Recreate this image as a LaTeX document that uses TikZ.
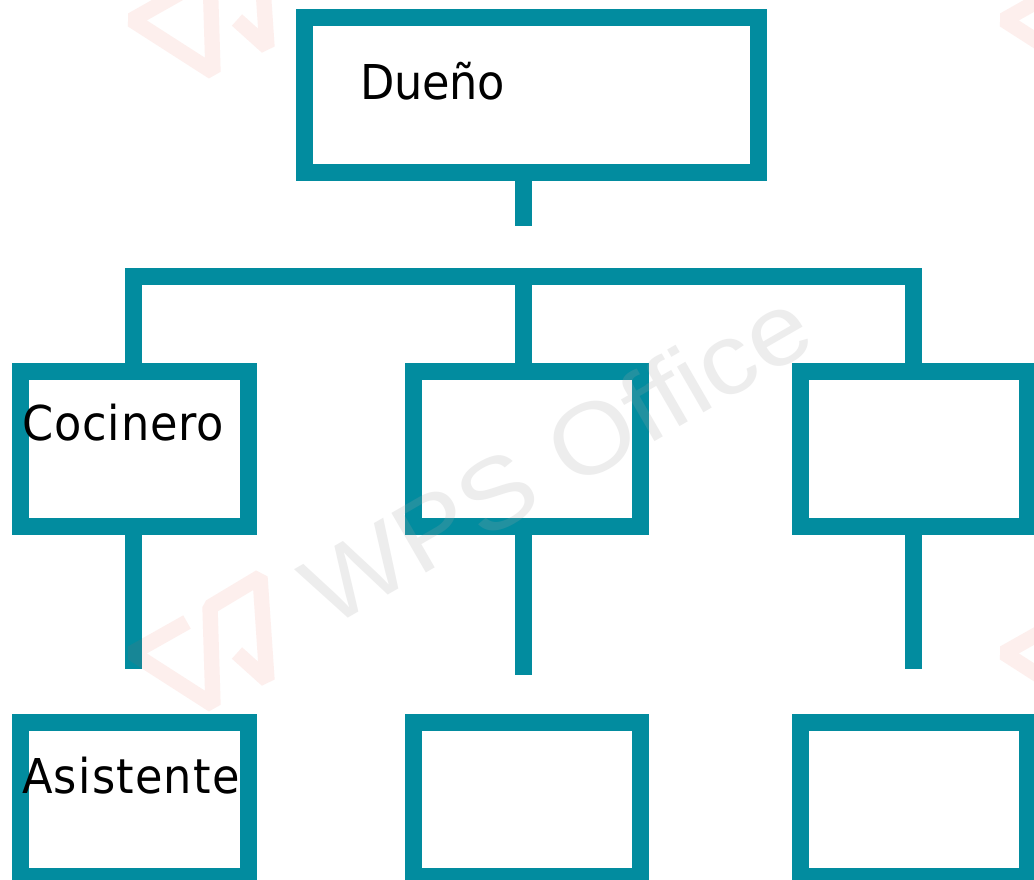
\documentclass[tikz,border=0pt]{standalone}
\usepackage{fontspec}
\setmainfont[FakeStretch=0.93]{DejaVu Sans}
\newfontfamily\lblowner[FakeStretch=0.93,LetterSpace=-0.8]{DejaVu Sans}
\newfontfamily\lblcook[FakeStretch=0.93,LetterSpace=1.8]{DejaVu Sans}
\newfontfamily\lblasst[FakeStretch=0.93,LetterSpace=2.5]{DejaVu Sans}
\newfontfamily\wmfont{Liberation Sans}
\definecolor{teal}{HTML}{028C9F}
\definecolor{wmred}{HTML}{F0543C}
\definecolor{wmgrey}{HTML}{A5A5A5}
\tikzset{
  every picture/.style={x=0.75pt,y=-0.75pt},
  box/.style={draw=teal,line width=12.75pt,fill=white,rectangle,inner sep=0pt,outer sep=0pt,anchor=north west},
  conn/.style={draw=teal,line width=12.75pt,line cap=butt,line join=miter},
  label/.style={font=\fontsize{36pt}{36pt}\selectfont,text=black,inner sep=0pt,anchor=base west},
  wmlogo/.style={draw=wmred,draw opacity=0.09,line width=11.5pt,line join=bevel},
  wmtext/.style={font=\fontsize{75pt}{75pt}\selectfont\wmfont,text=wmgrey,text opacity=0.2,inner sep=0pt,rotate=30,xscale=1.1,anchor=base},
  pics/wlogo/.style={code={
    \draw[wmlogo] (187,622) -- (132,653) -- (213,705) -- (210,607) -- (260,577) -- (267,680) -- (237,653);
  }}
}
\begin{document}
\begin{tikzpicture}
\useasboundingbox (0,0) rectangle (1034,879);
\fill[white] (0,0) rectangle (1034,879);
% boxes
\node[box,minimum width=340.5pt,minimum height=116.25pt] (owner) at (304.5,17.5) {};
\node[box,minimum width=171pt,minimum height=116.25pt] (a1) at (20,371.5) {};
\node[box,minimum width=170.25pt,minimum height=116.25pt] (a2) at (413.5,371.5) {};
\node[box,minimum width=170.25pt,minimum height=116.25pt] (a3) at (800.5,371.5) {};
\node[box,minimum width=171pt,minimum height=115.9pt] (b1) at (20,722) {};
\node[box,minimum width=170.25pt,minimum height=115.9pt] (b2) at (413.5,722) {};
\node[box,minimum width=170.25pt,minimum height=115.9pt] (b3) at (800.5,722) {};
% free ends
\coordinate (stub) at (523.5,226);
\coordinate (barL) at (133.5,276.5);
\coordinate (barM) at (523.5,276.5);
\coordinate (barR) at (913.5,276.5);
\coordinate (d1) at (133.5,669);
\coordinate (d2) at (523.5,675);
\coordinate (d3) at (913.5,669);
% connectors
\draw[conn] (owner.south -| stub) -- (stub);
\draw[conn] (a1.north -| barL) -- (barL) -- (barR) -- (a3.north -| barR);
\draw[conn] (barM) -- (a2.north -| barM);
\draw[conn] (a1.south -| d1) -- (d1);
\draw[conn] (a2.south -| d2) -- (d2);
\draw[conn] (a3.south -| d3) -- (d3);
% labels
\node[label] (t0) at (360,99) {\lblowner Dueño};
\node[label] (t1) at (22,440) {\lblcook Cocinero};
\node[label] (t2) at (22,793) {\lblasst Asistente};
% faint watermark lying over the drawing
\begin{scope}
\clip (0,0) rectangle (1034,879);
\pic at (0,0) {wlogo};
\pic at (0,-633) {wlogo};
\pic at (872,0) {wlogo};
\pic at (872,-633) {wlogo};
\node[wmtext] (wm) at (574,488) {WPS Office};
\end{scope}
\end{tikzpicture}
\end{document}
